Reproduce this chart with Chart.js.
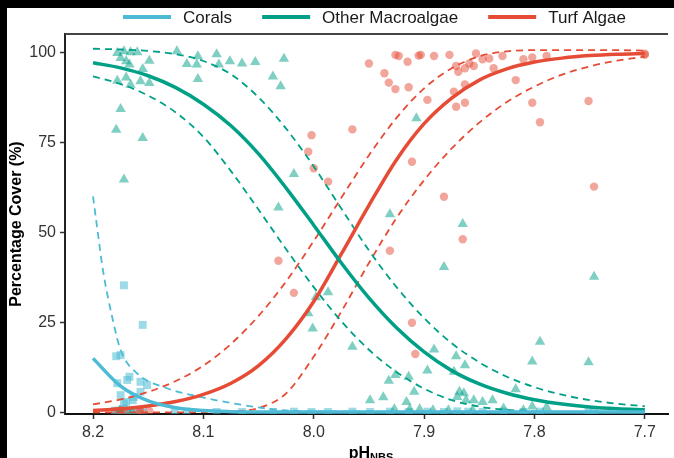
<!DOCTYPE html>
<html>
<head>
<meta charset="utf-8">
<script src="https://cdn.jsdelivr.net/npm/chart.js@4.4.1/dist/chart.umd.min.js"></script>
<style>
  html, body { margin: 0; padding: 0; background: #fff; }
</style>
</head>
<body>
<canvas id="coverChart" width="674" height="458"></canvas>
<script>
// series names and colours
const seriesNames = ["Corals", "Other Macroalgae", "Turf Algae"];
const seriesColors = ["#4DBBD5", "#00A087", "#E64B35"];
const pointColors = ["rgba(77,187,213,0.55)", "rgba(0,160,135,0.5)", "rgba(230,75,53,0.5)"];

// axis ticks
const xTicks = [8.2, 8.1, 8.0, 7.9, 7.8, 7.7];
const yTicks = [0, 25, 50, 75, 100];

// fitted curves
const fitPH = [8.2, 8.175, 8.15, 8.125, 8.1, 8.075, 8.05, 8.025, 8.0, 7.975, 7.95,
  7.925, 7.9, 7.875, 7.85, 7.825, 7.8, 7.775, 7.75, 7.725, 7.7];
const coralFit = [15, 7.3, 3.2, 1.3, 0.5, 0.2, 0.1, 0.1, 0.1, 0.1, 0.1,
  0.1, 0.1, 0.1, 0.1, 0.1, 0.1, 0.1, 0.1, 0.1, 0.1];
const macroFit = [97.1, 95.7, 93.5, 90.2, 85.6, 79.6, 71.8, 62.3, 52, 41.5, 31.8,
  23.5, 16.8, 11.6, 7.9, 5.3, 3.5, 2.3, 1.5, 1.0, 0.7];
const macroHi = [101, 100.8, 100.4, 99.5, 97.6, 93.9, 87.5, 78.8, 68.3, 56.6, 45,
  34.8, 26.2, 19.2, 13.9, 9.9, 7, 4.9, 3.4, 2.4, 1.7];
const macroLo = [93.3, 91.2, 88, 83.3, 76.5, 67, 56.3, 45.3, 34.8, 25.3, 17.4,
  11.2, 6.6, 3.4, 1.6, 0.7, 0.3, 0.15, 0.1, 0.1, 0.1];
const turfFit = [0.5, 1.0, 1.8, 3.0, 5.0, 8.1, 13, 20.5, 30.8, 44, 57.5,
  70.2, 80.2, 87.3, 92.3, 95.4, 97.3, 98.4, 99.1, 99.5, 99.7];
const turfHi = [2.2, 3.6, 5.7, 8.7, 13, 19, 26.8, 36.4, 47.6, 59.6, 71.4,
  81.8, 90, 95.6, 98.9, 100.3, 100.6, 100.6, 100.6, 100.6, 100.5];
const turfLo = [0, 0, 0, 0, 0.1, 0.3, 1.2, 5.3, 15.5, 28, 41.5,
  54, 64.5, 73.3, 80.5, 86.2, 90.5, 93.8, 96.1, 97.7, 98.8];
// upper band for corals is steep, so it has its own pH points
const coralHiPH = [8.2, 8.197, 8.191, 8.182, 8.175, 8.16, 8.133, 8.103, 8.073, 8.043, 8.028, 8.0, 7.9, 7.8, 7.7];
const coralHi = [60, 53, 39.5, 25.6, 17.3, 10.8, 6.7, 4.3, 2.5, 1.1, 0.6, 0.3, 0.2, 0.2, 0.2];

// observations
const coralPH = [8.172, 8.155, 8.179, 8.175, 8.167, 8.169, 8.157, 8.151, 8.178, 8.175, 8.157, 8.172, 8.164, 8.163, 8.170,
  8.180, 8.176, 8.173, 8.169, 8.166, 8.160, 8.155, 8.126, 8.115, 8.088, 8.065, 8.037, 8.018, 8.002, 7.987,
  7.965, 7.949, 7.931, 7.914, 7.897, 7.882, 7.870, 7.860, 7.847, 7.828, 7.810, 7.795, 7.751, 7.746];
const coralCover = [35.3, 24.3, 15.6, 15.9, 9.9, 9, 8.5, 7.6, 8.1, 4.8, 5.7, 2.5, 3.4, 4.3, 2.9,
  0.5, 0.2, 1.0, 0.3, 0.6, 0.2, 0.4, 0.2, 0.2, 0.1, 0.1, 0.1, 0.2, 0.1, 0.1,
  0.2, 0.1, 0.2, 0.1, 0.2, 0.1, 0.3, 0.2, 0.1, 0.2, 0.1, 0.2, 0.1, 0.2];

const macroPH = [8.178, 8.172, 8.166, 8.160, 8.175, 8.170, 8.167, 8.149, 8.155, 8.178, 8.170, 8.166, 8.157, 8.149,
  8.175, 8.179, 8.155, 8.172, 8.124, 8.115, 8.105, 8.106, 8.105, 8.088, 8.086, 8.076, 8.065, 8.053,
  8.037, 8.030, 8.027, 8.018, 8.032, 8.005, 8.001, 7.998, 7.987, 7.965, 7.931, 7.907, 7.865, 7.882,
  7.746, 7.891, 7.871, 7.863, 7.873, 7.897, 7.926, 7.932, 7.914, 7.909, 7.937, 7.949, 7.916, 7.868,
  7.864, 7.870, 7.862, 7.855, 7.847, 7.838, 7.828, 7.795, 7.802, 7.751, 7.817, 7.789, 7.802, 7.810,
  7.927, 7.913, 7.904, 7.892, 7.878, 7.856, 8.165, 8.176];
const macroCover = [99.8, 100.3, 100, 100, 98.4, 97.5, 96.6, 97.7, 95.4, 92.1, 93, 91, 92, 91.5,
  84.3, 78.5, 76.2, 64.7, 100.3, 96.8, 98.9, 96.6, 92.6, 99.5, 96.6, 97.5, 96.9, 97.3,
  93.3, 90.6, 98.2, 66.2, 56.9, 27.5, 23.3, 32, 33.4, 18.2, 55, 81.7, 52.3, 40.4,
  37.7, 17.5, 15.6, 13.1, 11.3, 11.6, 10.4, 8.8, 9.9, 5.7, 4.2, 3.4, 2.9, 5.7,
  5.3, 4.3, 3.4, 3.4, 2.9, 3.4, 1.1, 19.6, 14.1, 13.9, 6.4, 1.4, 1.6, 0.6,
  0.9, 0.9, 0.9, 0.6, 0.6, 0.6, 0.3, 0.3];

const turfPH = [7.950, 7.926, 7.923, 7.915, 7.905, 7.903, 7.891, 7.877, 7.936, 7.932, 7.926, 7.914, 7.897,
  7.871, 7.869, 7.863, 7.859, 7.855, 7.847, 7.841, 7.853, 7.829, 7.873, 7.863, 7.863, 7.871,
  7.817, 7.810, 7.802, 7.789, 7.802, 7.795, 7.965, 7.837, 7.751, 7.746, 7.882, 8.002, 8.005,
  8.000, 7.987, 7.911, 8.032, 8.018, 7.931, 7.911, 7.908, 7.865, 8.175, 8.179, 8.172, 8.158,
  8.149, 8.157, 7.7, 7.7];
const turfCover = [96.9, 99.3, 99, 97.4, 99.1, 99.3, 99, 99.3, 94.2, 91.6, 89.8, 90.3, 86.8,
  96.2, 94.6, 95.6, 96.9, 96.2, 98.1, 98.3, 99.7, 99, 89.1, 91.1, 86, 84.9,
  92.3, 98.1, 98.6, 99, 86, 80.6, 78.6, 95.6, 86.5, 62.7, 59.9, 77, 72.4,
  67.8, 64.1, 69.6, 42.1, 33.2, 44.9, 24.9, 16.2, 48.1, 0.6, 0.3, 0.3, 0.6,
  0.3, 0.3, 99.6, 99.3];

const fontFamily = "'Liberation Sans', Arial, sans-serif";

function toPoints(xs, ys) {
  return xs.map((x, i) => ({ x: x, y: ys[i] }));
}

function pointSet(k, xs, ys, style, radius) {
  return {
    type: "scatter",
    label: seriesNames[k] + " obs",
    data: toPoints(xs, ys),
    pointStyle: style,
    pointRadius: radius,
    pointBackgroundColor: pointColors[k],
    pointBorderWidth: 0,
    order: 5,
  };
}

function curve(k, xs, ys, dashed) {
  return {
    type: "line",
    label: seriesNames[k],
    data: toPoints(xs, ys),
    borderColor: seriesColors[k],
    borderWidth: dashed ? 1.8 : 3.5,
    borderDash: dashed ? [7, 5] : [],
    pointRadius: 0,
    cubicInterpolationMode: "monotone",
    fill: false,
    order: dashed ? 2 : 1,
  };
}

// legend, axis titles, panel top border and the black frame
const decorations = {
  id: "decorations",
  beforeDraw(chart) {
    const ctx = chart.ctx;
    ctx.save();
    ctx.fillStyle = "#fff";
    ctx.fillRect(0, 0, chart.width, chart.height);
    ctx.restore();
  },
  afterDraw(chart) {
    const { ctx, chartArea } = chart;
    ctx.save();
    ctx.strokeStyle = "#444";
    ctx.lineWidth = 2;
    ctx.beginPath();
    ctx.moveTo(chartArea.left, chartArea.top);
    ctx.lineTo(chartArea.right, chartArea.top);
    ctx.stroke();

    // legend
    ctx.font = "17px " + fontFamily;
    ctx.textBaseline = "middle";
    ctx.fillStyle = "#1a1a1a";
    const legendY = 17;
    let x = 123;
    seriesNames.forEach((name, k) => {
      ctx.strokeStyle = seriesColors[k];
      ctx.lineWidth = 4;
      ctx.beginPath();
      ctx.moveTo(x, legendY);
      ctx.lineTo(x + 48, legendY);
      ctx.stroke();
      ctx.fillText(name, x + 60, legendY + 1);
      x += 60 + ctx.measureText(name).width + 30;
    });

    // y title
    ctx.save();
    ctx.translate(21, (chartArea.top + chartArea.bottom) / 2);
    ctx.rotate(-Math.PI / 2);
    ctx.font = "bold 16px " + fontFamily;
    ctx.textAlign = "center";
    ctx.textBaseline = "alphabetic";
    ctx.fillStyle = "#000";
    ctx.fillText("Percentage Cover (%)", 0, 0);
    ctx.restore();

    // x title with subscript
    ctx.fillStyle = "#000";
    ctx.textBaseline = "alphabetic";
    ctx.font = "bold 16px " + fontFamily;
    const wMain = ctx.measureText("pH").width;
    ctx.font = "bold 11px " + fontFamily;
    const wSub = ctx.measureText("NBS").width;
    const startX = 371 - (wMain + wSub) / 2;
    ctx.font = "bold 16px " + fontFamily;
    ctx.fillText("pH", startX, 458);
    ctx.font = "bold 11px " + fontFamily;
    ctx.fillText("NBS", startX + wMain, 461);

    ctx.fillStyle = "#000";
    ctx.fillRect(0, 0, chart.width, 8);
    ctx.fillRect(0, 0, 7, chart.height);
    ctx.restore();
  },
};

const chart = new Chart(document.getElementById("coverChart"), {
  data: {
    datasets: [
      pointSet(1, macroPH, macroCover, "triangle", 6),
      pointSet(2, turfPH, turfCover, "circle", 4.2),
      pointSet(0, coralPH, coralCover, "rect", 5.6),
      curve(0, fitPH, coralFit, false),
      curve(0, coralHiPH, coralHi, true),
      curve(1, fitPH, macroFit, false),
      curve(1, fitPH, macroHi, true),
      curve(1, fitPH, macroLo, true),
      curve(2, fitPH, turfFit, false),
      curve(2, fitPH, turfHi, true),
      curve(2, fitPH, turfLo, true),
    ],
  },
  options: {
    responsive: false,
    animation: false,
    devicePixelRatio: 1,
    layout: { padding: { top: 34, left: 0, right: 0, bottom: 0 } },
    plugins: {
      legend: { display: false },
      tooltip: { enabled: false },
    },
    scales: {
      x: {
        type: "linear",
        reverse: true,
        min: 7.679,
        max: 8.2254,
        afterBuildTicks: (scale) => {
          scale.ticks = xTicks.map((v) => ({ value: v }));
        },
        afterFit: (scale) => {
          scale.height = 44;
          scale.paddingLeft = 0;
          scale.paddingRight = 0;
        },
        ticks: {
          callback: (v) => v.toFixed(1),
          font: { size: 16, family: fontFamily },
          color: "#333",
          padding: 4,
          maxRotation: 0,
          autoSkip: false,
        },
        grid: { drawOnChartArea: false, drawTicks: true, tickLength: 5, tickColor: "#333", tickWidth: 1.5 },
        border: { display: true, color: "#111", width: 2 },
      },
      y: {
        type: "linear",
        min: -0.45,
        max: 105.1,
        afterBuildTicks: (scale) => {
          scale.ticks = yTicks.map((v) => ({ value: v }));
        },
        afterFit: (scale) => {
          scale.width = 65;
          scale.paddingTop = 0;
          scale.paddingBottom = 0;
        },
        ticks: {
          font: { size: 16, family: fontFamily },
          color: "#333",
          padding: 4,
          autoSkip: false,
        },
        grid: { drawOnChartArea: false, drawTicks: true, tickLength: 5, tickColor: "#333", tickWidth: 1.5 },
        border: { display: true, color: "#222", width: 2 },
      },
    },
  },
  plugins: [decorations],
});
</script>
</body>
</html>
